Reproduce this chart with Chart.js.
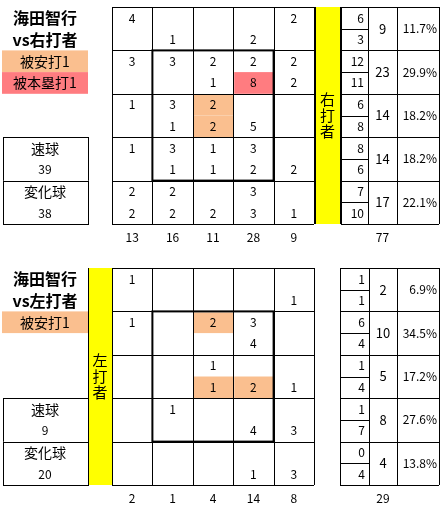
<!DOCTYPE html>
<html><head><meta charset="utf-8">
<script src="https://cdn.jsdelivr.net/npm/chart.js@4/dist/chart.umd.min.js"></script>
<style>html,body{margin:0;padding:0;background:#fff;}#wrap{width:445px;height:507px;}</style>
</head><body><div id="wrap"><canvas id="c" width="445" height="507"></canvas></div>
<script>
// ---------- DATA ----------
const pitcherName = "海田智行";
const colCount = 5;

// vs right-handed batters
const rTitle = "vs右打者";
const rBatterLabel = "右打者";
const rTopNums = [[4,null,null,null,2],[3,3,2,2,2],[1,3,2,null,null],[1,3,1,3,null],[2,2,null,3,null]];
const rBotNums = [[null,1,null,2,null],[null,null,1,8,2],[null,1,2,5,null],[null,1,1,2,2],[2,2,2,3,1]];
const rHighlights = [[2,2,0,"hit"],[2,2,1,"hit"],[1,3,1,"hr"]]; // row, col, half, kind
const rColTotals = [13,16,11,28,9];
const rRowSplits = [[6,3],[12,11],[6,8],[8,6],[7,10]];
const rRowTotals = [9,23,14,14,17];
const rRowPcts = ["11.7%","29.9%","18.2%","18.2%","22.1%"];
const rGrand = 77;
const rFast = 39, rBreaking = 38;
const rLegend = [["被安打1","hit"],["被本塁打1","hr"]];

// vs left-handed batters
const lTitle = "vs左打者";
const lBatterLabel = "左打者";
const lTopNums = [[1,null,null,null,null],[1,null,2,3,null],[null,null,1,null,null],[null,1,null,null,null],[null,null,null,null,null]];
const lBotNums = [[null,null,null,null,1],[null,null,null,4,null],[null,null,1,2,1],[null,null,null,4,3],[null,null,null,1,3]];
const lHighlights = [[1,2,0,"hit"],[2,2,1,"hit"],[2,3,1,"hit"]];
const lColTotals = [2,1,4,14,8];
const lRowSplits = [[1,1],[6,4],[1,4],[1,7],[0,4]];
const lRowTotals = [2,10,5,8,4];
const lRowPcts = ["6.9%","34.5%","17.2%","27.6%","13.8%"];
const lGrand = 29;
const lFast = 9, lBreaking = 20;
const lLegend = [["被安打1","hit"]];

const fastLabel = "速球", breakingLabel = "変化球";

// ---------- STYLE / LAYOUT ----------
const COLORS = {hit:"#FABF8F", hr:"#FF7C80", bar:"#FFFF00", line:"#000"};
const FONT = '"Noto Sans CJK JP","DejaVu Sans",sans-serif';

const panels = [
  {title:rTitle, batter:rBatterLabel, top:rTopNums, bot:rBotNums, hl:rHighlights, colTot:rColTotals,
   splits:rRowSplits, rowTot:rRowTotals, pcts:rRowPcts, grand:rGrand, fast:rFast, brk:rBreaking, legend:rLegend,
   y0:7, barX:[315,340], rightX:[341,368,397,439], gridX0:112},
  {title:lTitle, batter:lBatterLabel, top:lTopNums, bot:lBotNums, hl:lHighlights, colTot:lColTotals,
   splits:lRowSplits, rowTot:lRowTotals, pcts:lRowPcts, grand:lGrand, fast:lFast, brk:lBreaking, legend:lLegend,
   y0:268, barX:[88,112], rightX:[340,369,397,439], gridX0:112}
];
const colW = 40.4, rowH = 43.4;

const tablePlugin = {
  id:'tablePlugin',
  afterDraw(chart){
    const ctx = chart.ctx;
    const xs = chart.scales.x, ys = chart.scales.y;
    const X = v => xs.getPixelForValue(v);
    const Y = v => ys.getPixelForValue(v);
    const rect = (x1,y1,x2,y2,fill) => { ctx.fillStyle = fill; ctx.fillRect(X(x1),Y(y1),X(x2)-X(x1),Y(y2)-Y(y1)); };
    const hline = (x1,x2,y,w) => { ctx.lineWidth=w||1; ctx.strokeStyle=COLORS.line; ctx.beginPath(); const yy=Math.round(Y(y))+ (w>1?0:0.5); ctx.moveTo(X(x1),yy); ctx.lineTo(X(x2),yy); ctx.stroke(); };
    const vline = (x,y1,y2,w) => { ctx.lineWidth=w||1; ctx.strokeStyle=COLORS.line; ctx.beginPath(); const xx=Math.round(X(x))+(w>1?0:0.5); ctx.moveTo(xx,Y(y1)); ctx.lineTo(xx,Y(y2)); ctx.stroke(); };
    const box = (x1,y1,x2,y2) => { hline(x1,x2+1,y1); hline(x1,x2+1,y2); vline(x1,y1,y2); vline(x2,y1,y2); };
    const text = (s,x,y,align,font) => { ctx.fillStyle="#000"; ctx.font = font || ('12px '+FONT); ctx.textAlign=align||'center'; ctx.textBaseline='middle'; ctx.fillText(String(s),X(x),Y(y)); };

    panels.forEach(p => {
      const y0 = p.y0, gx = p.gridX0;
      const gy1 = y0 + rowH*5;
      const cx = c => gx + c*colW;
      const ry = r => y0 + r*rowH;
      // title
      text(pitcherName, 45, y0+11, 'center', 'bold 16px '+FONT);
      text(p.title, 45, y0+33, 'center', 'bold 16px '+FONT);
      // legend highlight boxes
      p.legend.forEach((lg,i) => {
        rect(2, ry(1)+i*rowH/2, 88, ry(1)+(i+1)*rowH/2, COLORS[lg[1]]);
        text(lg[0], 45, ry(1)+i*rowH/2+11, 'center', '14px '+FONT);
      });
      // cell highlights
      p.hl.forEach(h => {
        const [r,c,half,kind] = h;
        rect(cx(c)+1, ry(r)+half*rowH/2+(half?0:1), cx(c+1), ry(r)+(half+1)*rowH/2, COLORS[kind]);
      });
      // yellow batter bar
      rect(p.barX[0], y0, p.barX[1], gy1, COLORS.bar);
      const ch = [...p.batter];
      ch.forEach((s,i) => text(s, (p.barX[0]+p.barX[1])/2, (y0+gy1)/2 + (i-1)*16, 'center', '15px '+FONT));
      // grid lines
      for (let r=0;r<=5;r++) hline(gx, cx(5), ry(r));
      for (let c=0;c<=5;c++) vline(cx(c), y0, gy1);
      vline(p.barX[0], y0, gy1); vline(p.barX[1], y0, gy1);
      // strike zone
      ctx.lineWidth = 2; ctx.strokeStyle = COLORS.line;
      ctx.strokeRect(X(cx(1)), Y(ry(1)), X(cx(4))-X(cx(1)), Y(ry(4))-Y(ry(1)));
      // cell numbers
      for (let r=0;r<5;r++) for (let c=0;c<colCount;c++){
        const mx = cx(c)+colW/2;
        if (p.top[r][c]!=null) text(p.top[r][c], mx, ry(r)+11);
        if (p.bot[r][c]!=null) text(p.bot[r][c], mx, ry(r)+32.5);
      }
      // column totals
      p.colTot.forEach((v,c) => text(v, cx(c)+colW/2, gy1+13));
      // right summary box
      const [a,b,d,e] = p.rightX;
      for (let r=0;r<=5;r++) hline(a, e, ry(r));
      for (let r=0;r<5;r++) hline(a, b, ry(r)+rowH/2);
      [a,b,d,e].forEach(x => vline(x, y0, gy1));
      for (let r=0;r<5;r++){
        text(p.splits[r][0], b-4, ry(r)+11, 'right');
        text(p.splits[r][1], b-4, ry(r)+32.5, 'right');
        text(p.rowTot[r], (b+d)/2, ry(r)+rowH/2, 'center', '13px '+FONT);
        text(p.pcts[r], e-2, ry(r)+rowH/2, 'right');
      }
      text(p.grand, (b+d)/2, gy1+13);
      // pitch type boxes
      box(3, ry(3), 88, ry(4));
      box(3, ry(4), 88, ry(5));
      text(fastLabel, 45, ry(3)+11, 'center', '14px '+FONT);
      text(p.fast, 45, ry(3)+32.5);
      text(breakingLabel, 45, ry(4)+11, 'center', '14px '+FONT);
      text(p.brk, 45, ry(4)+32.5);
    });
  }
};

new Chart(document.getElementById('c'), {
  type:'scatter',
  data:{datasets:[{data:[], pointRadius:0}]},
  options:{
    responsive:false, animation:false, devicePixelRatio:1,
    layout:{padding:0},
    plugins:{legend:{display:false}, tooltip:{enabled:false}},
    scales:{
      x:{type:'linear', min:0, max:445, display:false},
      y:{type:'linear', min:0, max:507, reverse:true, display:false}
    }
  },
  plugins:[tablePlugin]
});
</script></body></html>
